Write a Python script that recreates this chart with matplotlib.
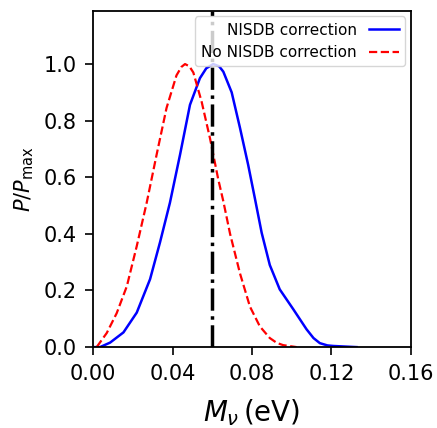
import matplotlib
matplotlib.use("Agg")
import matplotlib.pyplot as plt

# --- Data ---------------------------------------------------------------------
MNU_CORR = [0.0, 0.0035, 0.0086, 0.0153, 0.022, 0.0287, 0.0337, 0.0387, 0.0438,
            0.0488, 0.0538, 0.0570, 0.0605, 0.0635, 0.0656, 0.0698, 0.074,
            0.0781, 0.0815, 0.0849, 0.089, 0.094, 0.1008, 0.1075, 0.1110,
            0.1142, 0.1180, 0.121, 0.1327]
P_CORR = [0.0, 0.0, 0.016, 0.052, 0.122, 0.24, 0.37, 0.51, 0.68,
          0.856, 0.95, 0.985, 1.0, 0.992, 0.973, 0.90, 0.774,
          0.644, 0.525, 0.404, 0.290, 0.204, 0.134, 0.063, 0.032,
          0.014, 0.006, 0.004, 0.0]

MNU_NOCORR = [0.0018, 0.0069, 0.0119, 0.017, 0.022, 0.027, 0.032, 0.037, 0.042,
              0.0445, 0.0463, 0.0485, 0.0505, 0.0547, 0.0589, 0.063, 0.0656,
              0.069, 0.074, 0.079, 0.084, 0.089, 0.0925, 0.0957, 0.1025]
P_NOCORR = [0.0, 0.05, 0.12, 0.215, 0.357, 0.51, 0.68, 0.845, 0.96,
            0.99, 1.0, 0.992, 0.97, 0.866, 0.737, 0.594, 0.515,
            0.40, 0.26, 0.143, 0.073, 0.032, 0.015, 0.007, 0.0]

FIDUCIAL_MNU = 0.06
XTICKS = [0.00, 0.04, 0.08, 0.12, 0.16]
YTICKS = [0.0, 0.2, 0.4, 0.6, 0.8, 1.0]

# --- Plot ---------------------------------------------------------------------
fig = plt.figure(figsize=(4.37, 4.28), dpi=100)
ax = fig.add_axes([0.213, 0.189, 0.727, 0.785])

ax.plot(MNU_CORR, P_CORR, color='blue', linewidth=1.8,
        label='NISDB correction')
ax.plot(MNU_NOCORR, P_NOCORR, color='red', linestyle='--', linewidth=1.6,
        label='No NISDB correction')
ax.axvline(FIDUCIAL_MNU, color='black', linestyle='-.', linewidth=2.5)

ax.set_xlim(0, 0.16)
ax.set_ylim(0, 1.187)
ax.set_xticks(XTICKS)
ax.set_xticklabels([f'{t:.2f}' for t in XTICKS])
ax.set_yticks(YTICKS)
ax.tick_params(labelsize=15, width=1.2, length=6, pad=6)
for s in ax.spines.values():
    s.set_linewidth(1.3)

ax.set_xlabel(r'$M_\nu\,$(eV)', fontsize=20, labelpad=10)
ax.set_ylabel(r'$P/P_{\rm max}$', fontsize=15, labelpad=5)
ax.legend(loc='upper right', markerfirst=False, fontsize=11,
          borderaxespad=0.35)

plt.savefig('out.png', dpi=100)
